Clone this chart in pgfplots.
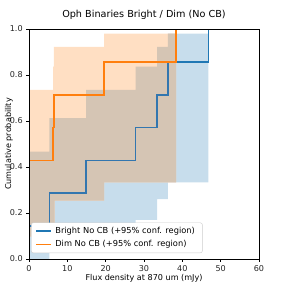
\documentclass[border=0pt]{standalone}
\usepackage{fontspec}
\setmainfont{DejaVu Sans}
\usepackage{pgfplots}
\pgfplotsset{compat=1.18}
\definecolor{tabblue}{RGB}{31,119,180}
\definecolor{taborange}{RGB}{255,127,14}
\definecolor{bluefill}{RGB}{199,221,236}
\definecolor{orangefill}{RGB}{255,223,195}
\definecolor{bothfill}{RGB}{213,197,180}
\definecolor{bluemuted}{RGB}{50,118,175}
\begin{document}
\begin{tikzpicture}
\useasboundingbox (-29bp,-29bp) rectangle (259bp,259bp);
\begin{axis}[
  at={(0,0)}, anchor=south west,
  scale only axis, width=230bp, height=230bp,
  xmin=0, xmax=60, ymin=0, ymax=1,
  xtick={0,10,20,30,40,50,60},
  ytick={0,0.2,0.4,0.6,0.8,1.0},
  tick align=outside, tick pos=left,
  major tick length=2.8bp,
  tick style={black, line width=0.65pt},
  axis line style={black, line width=0.65pt},
  axis on top,
  /pgf/number format/assume math mode=true,
  ticklabel style={font=\fontsize{8.1}{9}\selectfont, text=black!85},
  yticklabel style={/pgf/number format/.cd, fixed, fixed zerofill, precision=1},
  title={Oph Binaries Bright / Dim (No CB)},
  title style={at={(axis description cs:0.5,1)}, anchor=base, yshift=6bp, font=\fontsize{9.7}{11}\selectfont},
  xlabel={Flux density at 870 um (mJy)},
  xlabel style={at={(axis description cs:0.5,0)}, anchor=base, yshift=-21bp, font=\fontsize{8.1}{9}\selectfont},
  ylabel={Cumulative probability},
  ylabel style={at={(axis description cs:-0.078,0.5)}, anchor=base, font=\fontsize{8.1}{9}\selectfont},
  legend style={at={(axis description cs:0.009,0.026)}, anchor=south west,
    draw=black!20, fill=white, rounded corners=2bp,
    font=\fontsize{8.3}{9}\selectfont, inner xsep=4bp, inner ysep=2.5bp, row sep=1.5bp,
    nodes={inner xsep=3.5bp}},
  legend cell align=left,
  legend image code/.code={\draw[#1] (0bp,0bp) -- (15bp,0bp);},
]
% Bright confidence region
\addplot[fill=bluefill, draw=none, forget plot] coordinates {
 (0,0.467) (5.3,0.467) (5.3,0.612) (14.9,0.612) (14.9,0.735) (27.8,0.735)
 (27.8,0.836) (33.4,0.836) (33.4,0.922) (36.2,0.922) (36.2,0.98) (46.8,0.98)
 (46.8,0.333) (36.2,0.333) (36.2,0.26) (33.4,0.26) (33.4,0.17) (27.8,0.17)
 (27.8,0.09) (14.9,0.09) (14.9,0.03) (5.3,0.03) (5.3,0) (0,0)
};
% Dim confidence region
\addplot[fill=orangefill, draw=none, forget plot] coordinates {
 (0,0.735) (6.3,0.735) (6.3,0.836) (6.5,0.836) (6.5,0.922) (19.6,0.922)
 (19.6,0.98) (38.4,0.98)
 (38.4,0.333) (19.6,0.333) (19.6,0.254) (6.7,0.254) (6.7,0.097) (0,0.097)
};
% Overlap of the two regions
\addplot[fill=bothfill, draw=none, forget plot] coordinates {
 (0,0.467) (5.3,0.467) (5.3,0.612) (14.9,0.612) (14.9,0.735) (27.8,0.735)
 (27.8,0.836) (33.4,0.836) (33.4,0.922) (36.2,0.922) (36.2,0.98) (38.4,0.98)
 (38.4,0.333) (19.6,0.333) (19.6,0.254) (6.7,0.254) (6.7,0.097) (0,0.097)
};
% Bright line (part seen through the Dim region)
\addplot[draw=bluemuted, line width=1.6pt, const plot, mark=none, forget plot] coordinates {
 (0,0.1429) (5.3,0.2857) (14.9,0.4286) (27.8,0.5714) (33.4,0.7143) (36.2,0.8571) (38.4,0.8571)
};
% Bright line (rest)
\addplot[draw=tabblue, line width=1.6pt, const plot, mark=none] coordinates {
 (38.3,0.8571) (46.8,1.0)
};
\addlegendentry{Bright No CB (+95\% conf. region)}
% Dim line
\addplot[draw=taborange, line width=1.6pt, const plot, mark=none] coordinates {
 (0,0.4286) (6.3,0.5714) (6.5,0.7143) (19.5,0.8571) (38.4,1.0)
};
\addlegendentry{Dim No CB (+95\% conf. region)}
\end{axis}
\end{tikzpicture}
\end{document}
